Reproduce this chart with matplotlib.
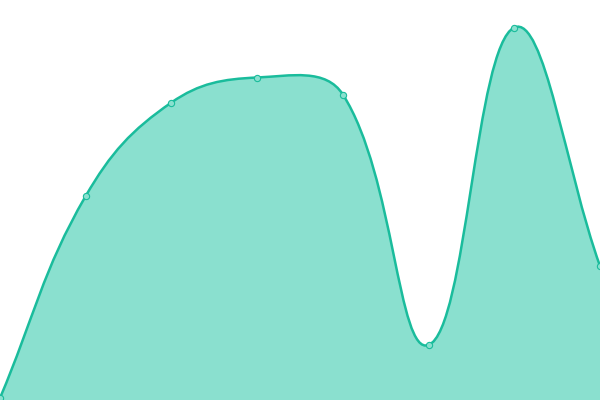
import numpy as np
import matplotlib
matplotlib.use('Agg')
import matplotlib.pyplot as plt
from matplotlib.path import Path
from matplotlib.patches import PathPatch

# category positions and values (plot height = 400 units)
categories = ['A', 'B', 'C', 'D', 'E', 'F', 'G', 'H']
values = [2, 204, 297.5, 322.5, 305.5, 55, 372.5, 134]

line_color = '#1abc9c'
fill_color = '#8ae0cf'
tension = 0.4

fig = plt.figure(figsize=(6, 4), dpi=100)
ax = fig.add_axes([0, 0, 1, 1])
ax.set_xlim(0, len(categories) - 1)
ax.set_ylim(0, 400)
ax.axis('off')

xs = np.arange(len(categories))
pts = ax.transData.transform(np.column_stack([xs, values]))

def control_points(p):
    # spline handles computed in pixel space
    n = len(p)
    cin, cout = [], []
    for i in range(n):
        prev = p[i - 1] if i > 0 else p[i]
        nxt = p[i + 1] if i < n - 1 else p[i]
        d01 = np.hypot(*(p[i] - prev))
        d12 = np.hypot(*(nxt - p[i]))
        tot = d01 + d12
        s01 = d01 / tot if tot else 0
        s12 = d12 / tot if tot else 0
        vec = nxt - prev
        cin.append(p[i] - vec * tension * s01)
        cout.append(p[i] + vec * tension * s12)
    return cin, cout

cin, cout = control_points(pts)
verts = [pts[0]]
codes = [Path.MOVETO]
for i in range(1, len(pts)):
    verts += [cout[i - 1], cin[i], pts[i]]
    codes += [Path.CURVE4] * 3

inv = ax.transData.inverted()
dverts = inv.transform(np.array(verts))

line_path = Path(dverts, codes)
fill_verts = np.vstack([dverts, [[xs[-1], 0], [xs[0], 0], dverts[0]]])
fill_codes = codes + [Path.LINETO, Path.LINETO, Path.CLOSEPOLY]
ax.add_patch(PathPatch(Path(fill_verts, fill_codes), facecolor=fill_color,
                       edgecolor='none', zorder=1))
ax.add_patch(PathPatch(line_path, facecolor='none', edgecolor=line_color,
                       linewidth=1.8, zorder=2))
ax.plot(xs, values, linestyle='none', marker='o', markersize=4.5,
        markerfacecolor=fill_color, markeredgecolor=line_color,
        markeredgewidth=0.8, zorder=3, clip_on=True)

fig.savefig('out.png', dpi=100)
